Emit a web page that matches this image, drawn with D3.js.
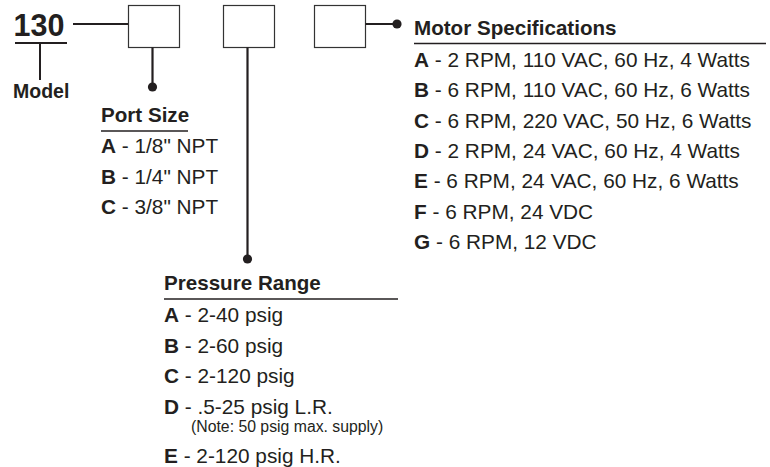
<!DOCTYPE html>
<html>
<head>
<meta charset="utf-8">
<script src="https://cdn.jsdelivr.net/npm/d3@7"></script>
<style>
  html, body { margin: 0; padding: 0; background: #fff; }
  svg { display: block; }
  text { font-family: "Liberation Sans", Arial, Helvetica, sans-serif; fill: #231f20; }
</style>
</head>
<body>
<svg id="chart" width="770" height="467"></svg>
<script>
// ---- Data ----
const modelNumber = "130";
const modelLabel = "Model";

const portTitle = "Port Size";
const portCodes = ["A", "B", "C"];
const portLabels = ['1/8" NPT', '1/4" NPT', '3/8" NPT'];

const pressureTitle = "Pressure Range";
const pressureCodes = ["A", "B", "C", "D", "E"];
const pressureLabels = ["2-40 psig", "2-60 psig", "2-120 psig", ".5-25 psig L.R.", "2-120 psig H.R."];
const pressureNotes = ["", "", "", "(Note: 50 psig max. supply)", ""];

const motorTitle = "Motor Specifications";
const motorCodes = ["A", "B", "C", "D", "E", "F", "G"];
const motorLabels = [
  "2 RPM, 110 VAC, 60 Hz, 4 Watts",
  "6 RPM, 110 VAC, 60 Hz, 6 Watts",
  "6 RPM, 220 VAC, 50 Hz, 6 Watts",
  "2 RPM, 24 VAC, 60 Hz, 4 Watts",
  "6 RPM, 24 VAC, 60 Hz, 6 Watts",
  "6 RPM, 24 VDC",
  "6 RPM, 12 VDC"
];

// ---- Drawing ----
const svg = d3.select("#chart");
const ink = "#231f20";

function line(x1, y1, x2, y2, w) {
  svg.append("line").attr("x1", x1).attr("y1", y1).attr("x2", x2).attr("y2", y2)
    .attr("stroke", ink).attr("stroke-width", w);
}
function dot(cx, cy) {
  svg.append("circle").attr("cx", cx).attr("cy", cy).attr("r", 4.6).attr("fill", ink);
}

// Model number
svg.append("text").attr("x", 13.5).attr("y", 36).attr("font-size", 30.5).attr("font-weight", "bold").text(modelNumber);
line(15, 43, 67, 43, 2);
line(40, 43, 40, 80, 2);
svg.append("text").attr("x", 13).attr("y", 98).attr("font-size", 19.5).attr("font-weight", "bold").text(modelLabel);

// Boxes
const boxX = [128, 223, 314];
svg.selectAll("rect.box").data(boxX).join("rect").attr("class", "box")
  .attr("x", d => d + 0.5).attr("y", 5.5).attr("width", 51).attr("height", 42)
  .attr("fill", "#fff").attr("stroke", "#333").attr("stroke-width", 1.2);

line(73, 24, 128, 24, 2);
line(152.5, 47.5, 152.5, 87, 2.2); dot(152.5, 87);
line(247.5, 47.5, 247.5, 259, 2.2); dot(247.5, 259);
line(365.5, 24, 397, 24, 2); dot(397, 24);

// Generic group drawer
function drawGroup(cfg) {
  const g = svg.append("g");
  g.append("text").attr("x", cfg.x).attr("y", cfg.titleY).attr("font-size", 20.6)
    .attr("font-weight", "bold").text(cfg.title);
  g.append("line").attr("x1", cfg.x).attr("x2", cfg.ruleEnd).attr("y1", cfg.ruleY).attr("y2", cfg.ruleY)
    .attr("stroke", ink).attr("stroke-width", 1.5);
  const y = d3.scaleLinear().domain([0, 1]).range([cfg.firstY, cfg.firstY + cfg.step]);
  const rows = cfg.codes.map((c, i) => ({ code: c, label: cfg.labels[i], note: cfg.notes ? cfg.notes[i] : "", i }));
  let extra = 0;
  rows.forEach(r => { r.y = y(r.i) + extra; if (r.note) extra += cfg.noteGap; });
  const t = g.selectAll("text.item").data(rows).join("text").attr("class", "item")
    .attr("x", cfg.x).attr("y", d => d.y).attr("font-size", 20.8);
  t.append("tspan").attr("font-weight", "bold").text(d => d.code);
  t.append("tspan").text(d => " - " + d.label);
  g.selectAll("text.note").data(rows.filter(r => r.note)).join("text").attr("class", "note")
    .attr("x", cfg.x + 27).attr("y", d => d.y + 18).attr("font-size", 15.8).text(d => d.note);
}

drawGroup({ title: motorTitle, codes: motorCodes, labels: motorLabels, x: 414, titleY: 35, ruleY: 43.5, ruleEnd: 766, firstY: 67, step: 30.3 });
drawGroup({ title: portTitle, codes: portCodes, labels: portLabels, x: 101, titleY: 122, ruleY: 131, ruleEnd: 188, firstY: 153, step: 30.5 });
drawGroup({ title: pressureTitle, codes: pressureCodes, labels: pressureLabels, notes: pressureNotes, x: 164, titleY: 290, ruleY: 299, ruleEnd: 398, firstY: 322, step: 30.7, noteGap: 18 });
</script>
</body>
</html>
